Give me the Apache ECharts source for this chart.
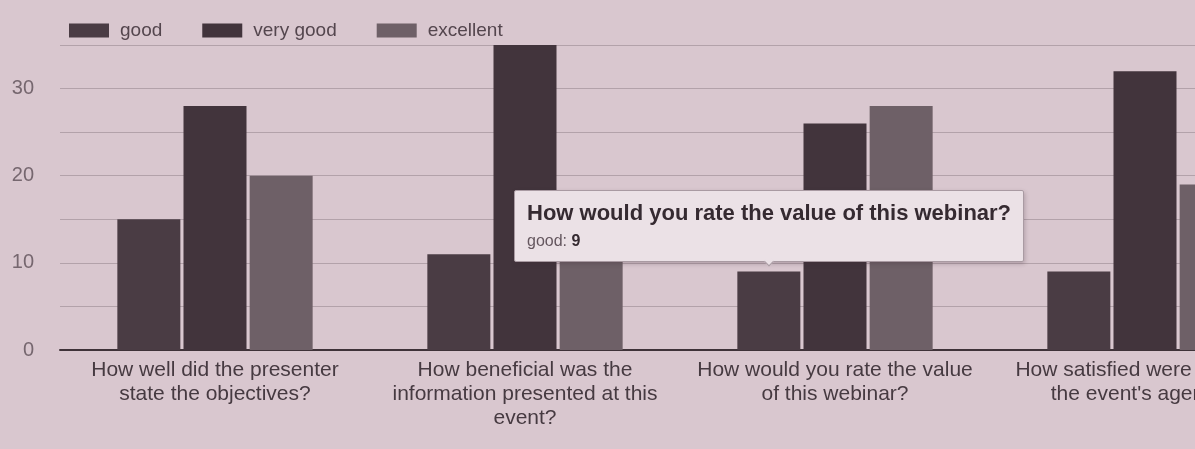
<!DOCTYPE html>
<html>
<head>
<meta charset="utf-8">
<script src="https://cdn.jsdelivr.net/npm/echarts@6/dist/echarts.min.js"></script>
<style>
  html, body { margin: 0; padding: 0; background: #d9c7cf; overflow: hidden; }
  #chart { width: 1195px; height: 449px; }
</style>
</head>
<body>
<div id="chart"></div>
<script>
// Survey questions (full text, shown in the tooltip) and their wrapped axis labels
const categories = [
  'How well did the presenter state the objectives?',
  'How beneficial was the information presented at this event?',
  'How would you rate the value of this webinar?',
  "How satisfied were you with the event's agenda?"
];
const categoryLabels = [
  'How well did the presenter\nstate the objectives?',
  'How beneficial was the\ninformation presented at this\nevent?',
  'How would you rate the value\nof this webinar?',
  "How satisfied were you with\nthe event's agenda?"
];

// Number of responses per rating
const good = [15, 11, 9, 9];
const veryGood = [28, 35, 26, 32];
const excellent = [20, 17, 28, 19];

// Labelled values on the vertical axis (grid lines every 5)
const yTicks = [0, 10, 20, 30];

const FONT = '"Liberation Sans", Arial, sans-serif';
const CSS_FONT = "'Liberation Sans', Arial, sans-serif";

const chart = echarts.init(document.getElementById('chart'), null, { renderer: 'canvas' });

function bar(name, data, color) {
  return {
    name: name,
    type: 'bar',
    data: data,
    barWidth: 63,
    barGap: '5%',
    itemStyle: { color: color },
    emphasis: { disabled: true }
  };
}

chart.setOption({
  animation: false,
  backgroundColor: '#d9c7cf',
  textStyle: { fontFamily: FONT },
  legend: {
    left: 64,
    top: 16,
    icon: 'rect',
    itemWidth: 40,
    itemHeight: 14,
    itemGap: 40,
    textStyle: { fontSize: 19, color: '#54464e', fontFamily: FONT, padding: [0, 0, 0, 6] },
    data: ['good', 'very good', 'excellent']
  },
  // the plot runs past the right edge, so the last question is partly cut off
  grid: {
    left: 60, right: -105, top: 45, bottom: 99,
    containLabel: false,
    outerBoundsMode: 'none'
  },
  tooltip: {
    trigger: 'item',
    triggerOn: 'none',
    alwaysShowContent: true,
    position: 'top',
    transitionDuration: 0,
    backgroundColor: '#ebe1e6',
    borderColor: '#a99aa2',
    borderWidth: 1,
    padding: [9, 12],
    extraCssText: 'box-shadow: 1px 2px 4px rgba(60,40,50,0.25); border-radius: 2px;',
    formatter: function (p) {
      return '<div style="font-family:' + CSS_FONT + ';font-weight:bold;font-size:22px;line-height:26px;color:#352a31;margin-bottom:4px">' +
        p.name + '</div>' +
        '<div style="font-family:' + CSS_FONT + ';font-size:16px;line-height:22px;color:#65575f">' +
        p.seriesName + ': <b style="color:#352a31">' + p.value + '</b></div>';
    }
  },
  xAxis: {
    type: 'category',
    data: categories,
    axisLine: { show: true, lineStyle: { color: '#3f3339', width: 2 } },
    axisTick: { show: false },
    axisLabel: {
      interval: 0,
      margin: 8,
      fontSize: 21,
      lineHeight: 24,
      color: '#463a41',
      fontFamily: FONT,
      formatter: function (value, index) { return categoryLabels[index]; }
    }
  },
  yAxis: {
    type: 'value',
    min: 0,
    max: 35,
    interval: 5,
    axisLine: { show: false },
    axisTick: { show: false },
    axisLabel: {
      margin: 26,
      fontSize: 20,
      color: '#76676f',
      fontFamily: FONT,
      formatter: function (v) { return yTicks.indexOf(v) >= 0 ? String(v) : ''; }
    },
    splitLine: { show: true, lineStyle: { color: '#b3a2aa', width: 1 } }
  },
  series: [
    bar('good', good, '#4a3c44'),
    bar('very good', veryGood, '#42343c'),
    bar('excellent', excellent, '#6e6067')
  ]
});

// Keep the tooltip open on the "good" rating of the third question
chart.dispatchAction({ type: 'showTip', seriesIndex: 0, dataIndex: 2 });
</script>
</body>
</html>
